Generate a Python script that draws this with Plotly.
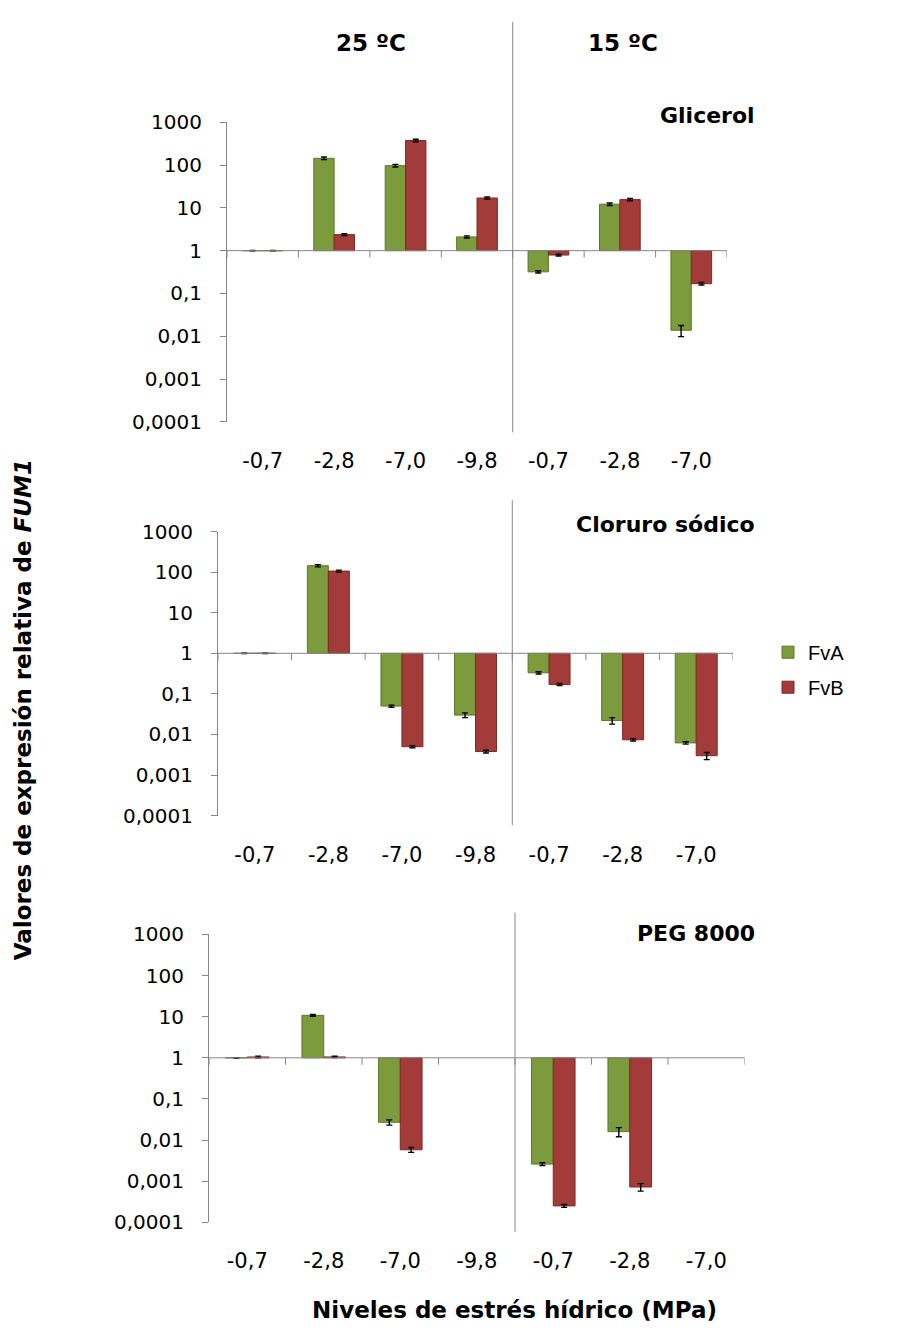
import plotly.graph_objects as go

W, H = 909, 1341

# Niveles de estrés hídrico (MPa): 25 ºC (4 niveles) y 15 ºC (3 niveles)
niveles = ["-0,7", "-2,8", "-7,0", "-9,8", "-0,7", "-2,8", "-7,0"]
posiciones = [0, 1, 2, 3, 4, 5, 6]
marcas_y = [0.0001, 0.001, 0.01, 0.1, 1, 10, 100, 1000]
textos_y = ["0,0001", "0,001", "0,01", "0,1", "1", "10", "100", "1000"]

# Glicerol
glicerol_fva = [1.0, 144, 97, 2.1, 0.32, 12.2, 0.0138]
glicerol_fvb = [1.0, 2.37, 375, 17, 0.79, 15.6, 0.169]
glicerol_fva_err = [0.01, 10, 7, 0.12, 0.02, 0.8, 0.004]
glicerol_fvb_err = [0.01, 0.12, 25, 1.0, 0.04, 0.9, 0.012]

# Cloruro sódico
cloruro_fva = [1.0, 144, 0.050, 0.030, 0.33, 0.022, 0.0062]
cloruro_fvb = [1.0, 106, 0.0050, 0.0038, 0.17, 0.0074, 0.0030]
cloruro_fva_err = [0.01, 9, 0.003, 0.004, 0.02, 0.004, 0.0004]
cloruro_fvb_err = [0.01, 6, 0.0003, 0.0003, 0.01, 0.0005, 0.0006]

# PEG 8000
peg_fva = [1.0, 10.8, 0.027, None, 0.0026, 0.016, None]
peg_fvb = [1.05, 1.05, 0.0058, None, 0.00025, 0.00072, None]
peg_fva_err = [0.01, 0.5, 0.004, None, 0.0002, 0.004, None]
peg_fvb_err = [0.05, 0.04, 0.0008, None, 0.00002, 0.00015, None]

VERDE = "#7B9B3D"
VERDE_BORDE = "#5C7829"
ROJO = "#A33B39"
ROJO_BORDE = "#7A2826"
GRIS = "#868686"
TXT = "DejaVu Sans"

# (etiqueta, fva, fvb, err fva, err fvb, caja en píxeles x0, x1, y_sup, y_inf, divisor y0, y1, etiqueta y)
paneles = [
    ("Glicerol", glicerol_fva, glicerol_fvb, glicerol_fva_err, glicerol_fvb_err,
     227, 727, 112.3, 417.3, 10, 428, 105),
    ("Cloruro sódico", cloruro_fva, cloruro_fvb, cloruro_fva_err, cloruro_fvb_err,
     218, 733, 529, 818.3, 497, 828, 522),
    ("PEG 8000", peg_fva, peg_fvb, peg_fva_err, peg_fvb_err,
     209, 744.5, 939.3, 1232.3, 917, 1242, 938),
]

LOG_MIN, LOG_MAX = -4, 3
ALTURA_UNO = (0 - LOG_MIN) / (LOG_MAX - LOG_MIN)  # fracción del dominio donde está el 1


def px_x(v):
    return v / W


def px_y(v):
    return 1 - v / H


def desde_uno(vals):
    # barras que parten del valor 1 del eje logarítmico
    return [None if v is None else v - 1 for v in vals]


fig = go.Figure()
layout = {}
shapes = []
annotations = []

for i, (nombre, fva, fvb, efa, efb, x0, x1, yt, yb, d0, d1, ly) in enumerate(paneles, start=1):
    xa = "x" if i == 1 else f"x{i}"
    ya = "y" if i == 1 else f"y{i}"
    for serie, vals, errs, color, borde in (("FvA", fva, efa, VERDE, VERDE_BORDE),
                                            ("FvB", fvb, efb, ROJO, ROJO_BORDE)):
        fig.add_trace(go.Bar(
            x=posiciones, y=desde_uno(vals), base=1, name=serie,
            marker=dict(color=color, line=dict(color=borde, width=1)),
            error_y=dict(type="data", array=errs, color="black", thickness=1.4, width=3),
            xaxis=xa, yaxis=ya, showlegend=(i == 1), legendgroup=serie,
        ))

    dom_x = [px_x(x0), px_x(x1)]
    dom_y = [px_y(yb), px_y(yt)]
    layout[f"xaxis{i}" if i > 1 else "xaxis"] = dict(
        domain=dom_x, anchor=ya, range=[-0.5, 6.5],
        tickmode="array", tickvals=posiciones, ticktext=niveles,
        showline=False, showgrid=False, zeroline=False, ticks="",
        ticklabelstandoff=24, tickfont=dict(family=TXT, size=21, color="black"),
    )
    layout[f"yaxis{i}" if i > 1 else "yaxis"] = dict(
        domain=dom_y, anchor=xa, type="log", range=[LOG_MIN, LOG_MAX],
        tickmode="array", tickvals=marcas_y, ticktext=textos_y,
        showline=True, linecolor=GRIS, linewidth=1, ticks="outside", ticklen=6,
        tickcolor=GRIS, showgrid=False, zeroline=False, ticklabelstandoff=14,
        tickfont=dict(family=TXT, size=20, color="black"),
    )

    # eje de categorías trazado a la altura del valor 1
    ydom = f"{ya} domain"
    largo_marca = 7 / (yb - yt)
    shapes.append(dict(type="line", xref=xa, yref=ydom, x0=-0.5, x1=6.5,
                       y0=ALTURA_UNO, y1=ALTURA_UNO, line=dict(color=GRIS, width=1)))
    for p in posiciones + [7]:
        shapes.append(dict(type="line", xref=xa, yref=ydom, x0=p - 0.5, x1=p - 0.5,
                           y0=ALTURA_UNO, y1=ALTURA_UNO - largo_marca,
                           line=dict(color=GRIS, width=1)))

    # separación entre 25 ºC y 15 ºC
    shapes.append(dict(type="line", xref=xa, yref="paper", x0=3.5, x1=3.5,
                       y0=px_y(d1), y1=px_y(d0), line=dict(color=GRIS, width=1)))
    annotations.append(dict(text=f"<b>{nombre}</b>", xref="paper", yref="paper",
                            x=px_x(757), y=px_y(ly), xanchor="right", yanchor="middle",
                            showarrow=False, font=dict(family=TXT, size=22, color="black")))

annotations += [
    dict(text="<b>25 ºC</b>", xref="paper", yref="paper", x=px_x(371), y=px_y(32),
         xanchor="center", yanchor="middle", showarrow=False,
         font=dict(family=TXT, size=23, color="black")),
    dict(text="<b>15 ºC</b>", xref="paper", yref="paper", x=px_x(623), y=px_y(32),
         xanchor="center", yanchor="middle", showarrow=False,
         font=dict(family=TXT, size=23, color="black")),
    dict(text="<b>Valores de expresión relativa de <i>FUM1</i></b>", xref="paper", yref="paper",
         x=px_x(23), y=px_y(711), xanchor="center", yanchor="middle", textangle=-90,
         showarrow=False, font=dict(family=TXT, size=23, color="black")),
    dict(text="<b>Niveles de estrés hídrico (MPa)</b>", xref="paper", yref="paper",
         x=px_x(514), y=px_y(1322), xanchor="center", yanchor="middle",
         showarrow=False, font=dict(family=TXT, size=23, color="black")),
]

fig.update_layout(
    width=W, height=H, margin=dict(l=0, r=0, t=0, b=0),
    paper_bgcolor="white", plot_bgcolor="rgba(0,0,0,0)",
    barmode="group", bargap=0.43, bargroupgap=0,
    shapes=shapes, annotations=annotations,
    legend=dict(x=px_x(768), y=px_y(632), xanchor="left", yanchor="top",
                font=dict(family="Liberation Sans", size=20, color="black"),
                tracegroupgap=6, bgcolor="rgba(0,0,0,0)"),
    **layout,
)

fig.write_html("out.html")
